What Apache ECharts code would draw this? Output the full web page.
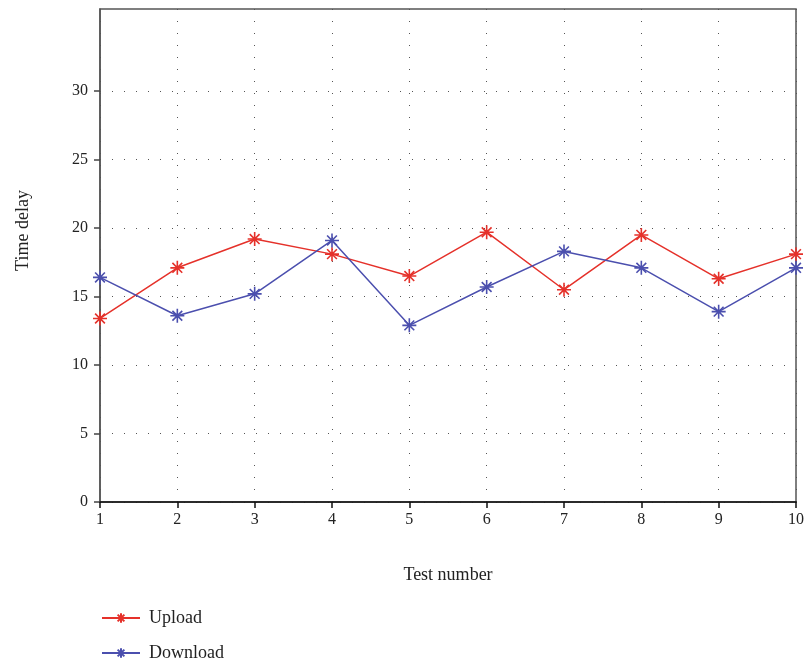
<!DOCTYPE html>
<html>
<head>
<meta charset="utf-8">
<script src="https://cdn.jsdelivr.net/npm/echarts@6/dist/echarts.min.js"></script>
<style>
  html, body { margin: 0; padding: 0; background: #fff; }
  #main { width: 808px; height: 662px; }
</style>
</head>
<body>
<div id="main"></div>
<script>
var testNumbers = [1, 2, 3, 4, 5, 6, 7, 8, 9, 10];
var upload = [13.4, 17.1, 19.2, 18.1, 16.5, 19.7, 15.5, 19.5, 16.3, 18.1];
var download = [16.4, 13.6, 15.2, 19.1, 12.9, 15.7, 18.3, 17.1, 13.9, 17.1];
var yTicks = [0, 5, 10, 15, 20, 25, 30];

var star = 'path://M0,-10L0,10M-10,0L10,0M-7,-7L7,7M-7,7L7,-7';
var font = 'Liberation Serif';

function pairs(vals) {
    return testNumbers.map(function (x, i) { return [x, vals[i]]; });
}

var chart = echarts.init(document.getElementById('main'));
var option = {
    animation: false,
    textStyle: { fontFamily: font },
    grid: {
        left: 100, right: 12, top: 9, bottom: 160,
        show: true, borderColor: '#555', borderWidth: 1.5
    },
    xAxis: {
        type: 'value', min: 1, max: 10, interval: 1,
        name: 'Test number', nameLocation: 'middle', nameGap: 64,
        nameTextStyle: { fontSize: 18, color: '#222', fontFamily: font },
        axisLine: { lineStyle: { color: '#111', width: 1.5 } },
        axisTick: { length: 6, lineStyle: { color: '#111', width: 1.5 } },
        axisLabel: { fontSize: 16, color: '#222', margin: 10, fontFamily: font },
        splitLine: { show: true, lineStyle: { color: '#555', type: [1, 11], width: 1 } }
    },
    yAxis: {
        type: 'value', min: 0, max: 36,
        name: 'Time delay', nameLocation: 'middle', nameGap: 68,
        nameTextStyle: { fontSize: 18, color: '#222', fontFamily: font, padding: [0, 0, 0, 50] },
        axisLine: { show: true, lineStyle: { color: '#555', width: 1.5 } },
        axisTick: { show: true, length: 6, customValues: yTicks, lineStyle: { color: '#444', width: 1.5 } },
        axisLabel: { fontSize: 16, color: '#222', margin: 12, customValues: yTicks, fontFamily: font },
        splitLine: { show: true, lineStyle: { color: '#555', type: [1, 11], width: 1 } }
    },
    legend: {
        orient: 'vertical', left: 96, top: 604, height: 70, itemGap: 17,
        itemWidth: 38, itemHeight: 12,
        textStyle: { fontSize: 18, color: '#222', fontFamily: font, padding: [0, 0, 0, 4] },
        data: ['Upload', 'Download']
    },
    series: [
        {
            name: 'Upload', type: 'line', data: pairs(upload),
            symbol: star, symbolSize: 14,
            lineStyle: { color: '#e5312a', width: 1.5 },
            itemStyle: { color: '#e5312a', borderColor: '#e5312a', borderWidth: 1.6 }
        },
        {
            name: 'Download', type: 'line', data: pairs(download),
            symbol: star, symbolSize: 14,
            lineStyle: { color: '#4b4fae', width: 1.5 },
            itemStyle: { color: '#4b4fae', borderColor: '#4b4fae', borderWidth: 1.6 }
        }
    ]
};
chart.setOption(option);
</script>
</body>
</html>
